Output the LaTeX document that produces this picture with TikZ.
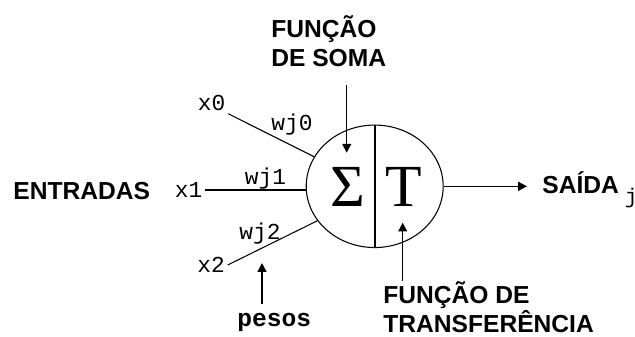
\documentclass[tikz,border=0pt]{standalone}
\usepackage{fontspec}
\setmainfont{Liberation Sans}
\newfontfamily\monofont{Liberation Mono}
\newfontfamily\symfont{Liberation Serif}
\usetikzlibrary{arrows.meta,shapes.geometric}

\begin{document}
\begin{tikzpicture}[
    x=0.02cm, y=-0.02cm,
    lbl/.style={font=\fontsize{14}{16.5}\selectfont\bfseries, inner sep=0, align=left},
    wt/.style={font=\fontsize{13}{15}\selectfont\monofont, inner sep=1.5pt},
    sym/.style={font=\fontsize{34}{34}\selectfont\symfont, inner sep=0},
    wire/.style={line width=0.6pt},
    arr/.style={-{Triangle[length=5pt,width=5pt]}, line width=0.9pt}
]
\useasboundingbox[fill=white] (0,0) rectangle (635,336);

% neuron
\node[draw, ellipse, minimum width=2.74cm, minimum height=2.45cm, inner sep=0, line width=0.6pt] (neuron) at (374.7,186.3) {};
\draw[line width=1pt] (neuron.north) -- (neuron.south);
\node[sym] (sigma) at (347.5,187) {Σ};
\node[sym] (tf) at (403.5,187) {T};

% inputs and weights
\node[wt] (x0) at (211.5,103) {x0};
\node[wt] (x1) at (188.5,190) {x1};
\node[wt] (x2) at (211,265) {x2};
\node[wt] (w0) at (292,125) {wj0};
\node[wt] (w1) at (265.5,178.5) {wj1};
\node[wt] (w2) at (260,233.5) {wj2};
\draw[wire] (x0.south east) -- (neuron.154.6);
\draw[wire] (x1.east) -- (x1.east -| neuron.west);
\draw[wire] (x2.east) -- (neuron.211.4);

\node[lbl, anchor=base west] (entradas) at (13,199) {ENTRADAS};

% sum function
\node[lbl, anchor=base west] (soma) at (271,66.7) {FUNÇÃO\\DE SOMA};
\coordinate (sumtip) at (346.7,152.7);
\draw[arr, shorten <=0.36cm] (soma.south -| sumtip) -- (sumtip);

% output
\node[lbl, anchor=base west] (saida) at (542,193.3) {SAÍDA\hspace{0.12cm}\raisebox{-0.21cm}{\fontsize{12}{14}\selectfont\mdseries\monofont j}};
\draw[arr, shorten >=0.3cm] (neuron.east) -- (neuron.east -| saida.west);

% transfer function
\node[lbl, anchor=base west] (transf) at (383,332) {FUNÇÃO DE\\TRANSFERÊNCIA};
\coordinate (tftip) at (402.7,222.7);
\draw[arr] (transf.north -| tftip) -- (tftip);

% weights
\node[font=\fontsize{14}{16}\selectfont\bfseries\monofont, inner xsep=0, inner ysep=0.16cm, anchor=base west] (pesos) at (237,326) {pesos};
\coordinate (wtip) at (262,263);
\draw[arr] (pesos.north -| wtip) -- (wtip);
\end{tikzpicture}
\end{document}
